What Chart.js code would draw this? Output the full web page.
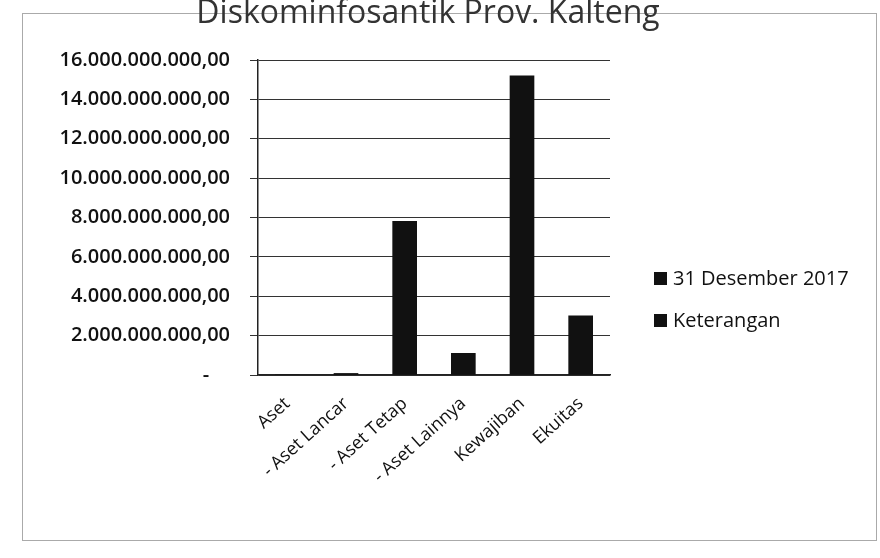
<!DOCTYPE html>
<html>
<head>
<meta charset="utf-8">
<script src="https://cdn.jsdelivr.net/npm/chart.js@4/dist/chart.umd.min.js"></script>
<style>
  html, body { margin: 0; padding: 0; background: #fff; }
  #wrap { position: relative; width: 880px; height: 558px; overflow: hidden; }
  #frame { position: absolute; left: 22px; top: 13px; width: 855px; height: 528px; border: 1px solid #aaa; box-sizing: border-box; }
  #title { position: absolute; left: -12px; width: 880px; top: -9px; text-align: center; font-family: "Open Sans", sans-serif; font-size: 32px; color: #333; line-height: 40px; }
  #legend { position: absolute; left: 654px; top: 258px; font-family: "Open Sans", sans-serif; font-size: 20px; font-weight: 500; color: #111; }
  #legend div { height: 42px; line-height: 40px; white-space: nowrap; }
  #legend span.sw { display: inline-block; width: 13px; height: 13px; background: #111; margin-right: 6px; vertical-align: 0px; }
  canvas { position: absolute; left: 0; top: 0; }
</style>
</head>
<body>
<div id="wrap">
  <div id="frame"></div>
  <canvas id="c" width="880" height="558"></canvas>
  <div id="title">Diskominfosantik Prov. Kalteng</div>
  <div id="legend"></div>
</div>
<script>
const categories = ["Aset", "- Aset Lancar", "- Aset Tetap", "- Aset Lainnya", "Kewajiban", "Ekuitas"];
const seriesNames = ["31 Desember 2017", "Keterangan"];
const desember2017 = [0, 80000000, 7800000000, 1100000000, 15200000000, 3000000000];
const keterangan = [null, null, null, null, null, null];
const yTicks = [0, 2e9, 4e9, 6e9, 8e9, 10e9, 12e9, 14e9, 16e9];

function fmtId(v) {
  if (v === 0) return "-    ";
  const s = Math.round(v).toString().replace(/\B(?=(\d{3})+(?!\d))/g, ".");
  return s + ",00";
}

const legendEl = document.getElementById("legend");
seriesNames.forEach(n => {
  const d = document.createElement("div");
  d.innerHTML = '<span class="sw"></span>' + n;
  legendEl.appendChild(d);
});

new Chart(document.getElementById("c"), {
  type: "bar",
  data: {
    labels: categories,
    datasets: [
      { label: seriesNames[0], data: desember2017, backgroundColor: "#111", barThickness: 24, grouped: false },
      { label: seriesNames[1], data: keterangan, backgroundColor: "#111", barThickness: 24, grouped: false }
    ]
  },
  options: {
    responsive: false,
    animation: false,
    layout: { padding: { left: 10, top: 60, right: 270, bottom: 0 } },
    plugins: { legend: { display: false }, title: { display: false }, tooltip: { enabled: false } },
    scales: {
      x: {
        grid: { display: false, drawTicks: true, tickLength: 8 },
        border: { color: "#222", width: 1.5 },
        ticks: { minRotation: 42, maxRotation: 42, color: "#111", font: { family: "Open Sans", size: 18, weight: "500" }, padding: 10 },
        afterFit: s => { s.height = 183; }
      },
      y: {
        min: 0, max: 16e9,
        afterBuildTicks: s => { s.ticks = yTicks.map(v => ({ value: v })); },
        grid: { color: "#333", lineWidth: 1, tickLength: 8 },
        border: { color: "#222", width: 1.5 },
        ticks: { color: "#111", font: { family: "Open Sans", size: 20, weight: "600" }, padding: 20, callback: v => fmtId(v) },
        afterFit: s => { s.width = 248; }
      }
    }
  }
});
</script>
</body>
</html>
